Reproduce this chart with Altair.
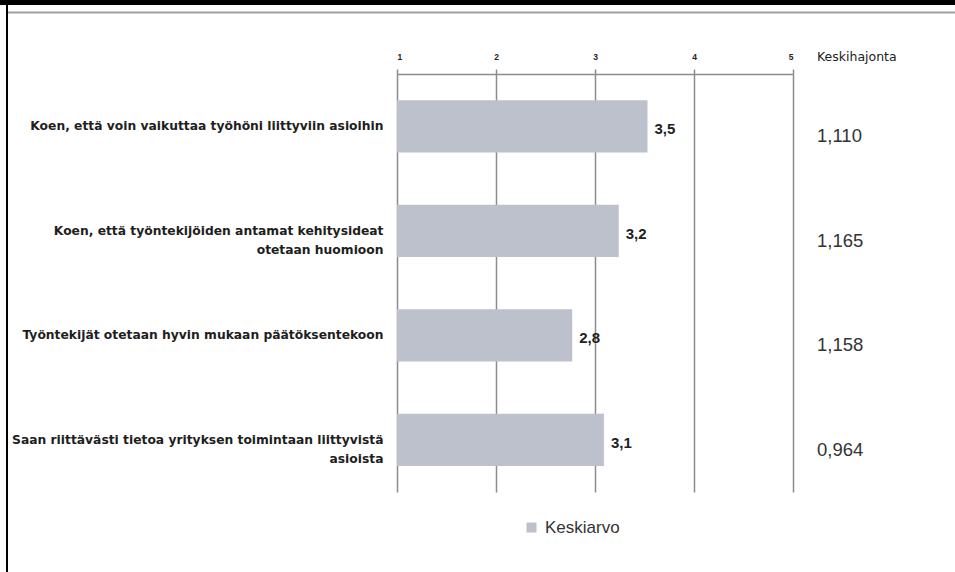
import altair as alt
import pandas as pd

# --- data ---
kysymykset = [
    "Koen, että voin vaikuttaa työhöni liittyviin asioihin",
    "Koen, että työntekijöiden antamat kehitysideat|otetaan huomioon",
    "Työntekijät otetaan hyvin mukaan päätöksentekoon",
    "Saan riittävästi tietoa yrityksen toimintaan liittyvistä|asioista",
]
keskiarvo = [3.53, 3.24, 2.77, 3.09]
keskihajonta = [1.110, 1.165, 1.158, 0.964]
x_ticks = [1, 2, 3, 4, 5]
sarja = "Keskiarvo"
sarake_otsikko = "Keskihajonta"

df = pd.DataFrame({"kysymys": kysymykset, "keskiarvo": keskiarvo,
                   "sd": keskihajonta, "sarja": [sarja] * len(kysymykset)})

BAR = "#BCC1CB"
GRID = "#8c8c8c"
FONT = "Liberation Sans"
WFONT = "DejaVu Sans"
PW, PH = 396, 418
PL, PT = 397, 74

base = alt.Chart(df).transform_calculate(
    lbl="replace(format(datum.keskiarvo, '.1f'), '.', ',')",
    sdl="replace(format(datum.sd, '.3f'), '.', ',')",
)

y_enc = alt.Y(
    "kysymys:N", sort=kysymykset,
    scale=alt.Scale(paddingInner=0.5, paddingOuter=0.25),
    axis=alt.Axis(title=None, labelExpr="split(datum.label, '|')",
                  labelAlign="right", labelPadding=14, ticks=False, domain=False,
                  grid=False, labelFont=WFONT, labelFontSize=12.3,
                  labelFontWeight="bold", labelColor="#1e1e1e", labelLimit=600,
                  labelLineHeight=19),
)
x_scale = alt.Scale(domain=[1, 5], nice=False, zero=False)
x_axis = alt.Axis(orient="top", values=x_ticks, format="d", title=None,
                  tickSize=5, tickColor=GRID, tickWidth=1.5,
                  domainColor=GRID, domainWidth=1.5,
                  grid=True, gridColor=GRID, gridWidth=1.5, gridOpacity=1,
                  labelFont=FONT, labelFontSize=8.5, labelFontWeight="bold",
                  labelColor="#222", labelPadding=8)

bars = base.mark_bar().encode(
    x=alt.X("keskiarvo:Q", scale=x_scale, axis=x_axis),
    x2=alt.datum(1),
    y=y_enc,
    color=alt.Color("sarja:N", scale=alt.Scale(range=[BAR]),
                    legend=alt.Legend(title=None, orient="none", legendX=126,
                                      legendY=445, symbolType="square",
                                      symbolSize=100, symbolStrokeWidth=0,
                                      labelFont=FONT, labelFontSize=17,
                                      labelColor="#333", labelOffset=5)),
)

labels = base.mark_text(align="left", baseline="middle", dx=7, dy=3,
                        font=FONT, fontSize=15, fontWeight="bold",
                        color="#222").encode(
    x=alt.X("keskiarvo:Q", scale=x_scale),
    y=alt.Y("kysymys:N", sort=kysymykset),
    text="lbl:N",
)

sd_text = base.mark_text(align="left", baseline="middle", dy=10,
                         font=FONT, fontSize=18.5, color="#333").encode(
    x=alt.value(PW + 24),
    y=alt.Y("kysymys:N", sort=kysymykset),
    text="sdl:N",
)

header = alt.Chart(pd.DataFrame({"t": [sarake_otsikko]})).mark_text(
    align="left", baseline="middle", font=WFONT, fontSize=12.5, color="#222"
).encode(x=alt.value(PW + 24), y=alt.value(-17), text="t:N")

# screenshot frame decoration
deco = alt.Chart(pd.DataFrame({"d": [0]}))
top_band = deco.mark_rule(color="black", strokeWidth=5).encode(
    x=alt.value(-PL), x2=alt.value(955 - PL), y=alt.value(-PT + 2.5))
grey_line = deco.mark_rule(color="#a0a0a0", strokeWidth=2).encode(
    x=alt.value(-PL + 7), x2=alt.value(955 - PL), y=alt.value(-PT + 12.5))
left_line = deco.mark_rule(color="black", strokeWidth=2).encode(
    x=alt.value(-PL + 7), y=alt.value(-PT), y2=alt.value(572 - PT))

chart = alt.layer(bars, labels, sd_text, header, top_band, grey_line, left_line).properties(
    width=PW, height=PH,
    padding={"left": PL, "top": PT, "right": 955 - PL - PW, "bottom": 572 - PT - PH},
    autosize=alt.AutoSizeParams(type="none"),
    background="white",
).configure_view(stroke=None)

chart.save("out.html", embed_options={"renderer": "svg", "actions": False})
